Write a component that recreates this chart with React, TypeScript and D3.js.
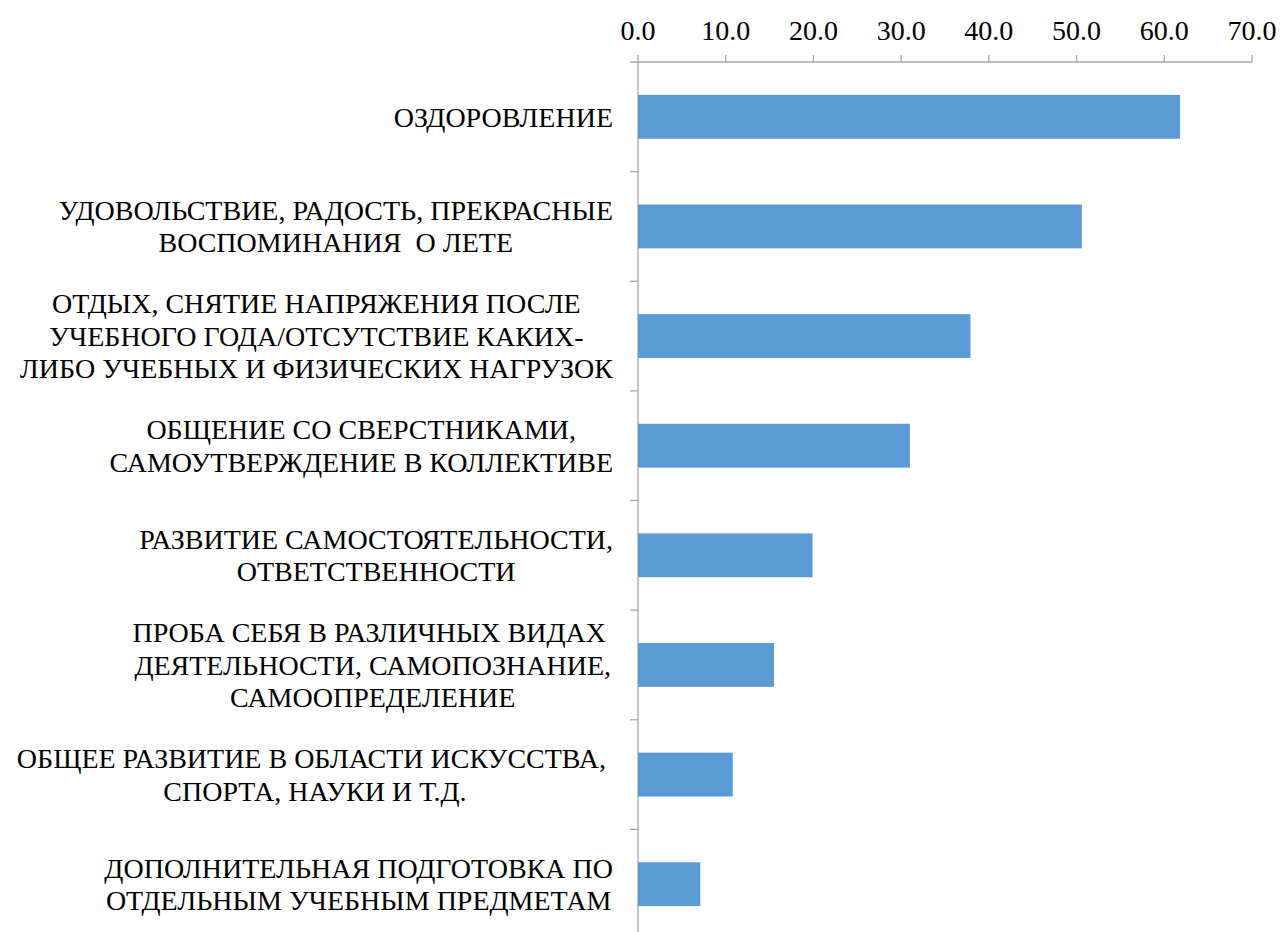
import React, { useMemo } from "react";
import * as d3 from "d3";

const categories: string[][] = [
  ["ОЗДОРОВЛЕНИЕ"],
  ["УДОВОЛЬСТВИЕ, РАДОСТЬ, ПРЕКРАСНЫЕ", "ВОСПОМИНАНИЯ  О ЛЕТЕ"],
  ["ОТДЫХ, СНЯТИЕ НАПРЯЖЕНИЯ ПОСЛЕ", "УЧЕБНОГО ГОДА/ОТСУТСТВИЕ КАКИХ-", "ЛИБО УЧЕБНЫХ И ФИЗИЧЕСКИХ НАГРУЗОК"],
  ["ОБЩЕНИЕ СО СВЕРСТНИКАМИ,", "САМОУТВЕРЖДЕНИЕ В КОЛЛЕКТИВЕ"],
  ["РАЗВИТИЕ САМОСТОЯТЕЛЬНОСТИ,", "ОТВЕТСТВЕННОСТИ"],
  ["ПРОБА СЕБЯ В РАЗЛИЧНЫХ ВИДАХ ", "ДЕЯТЕЛЬНОСТИ, САМОПОЗНАНИЕ,", "САМООПРЕДЕЛЕНИЕ"],
  ["ОБЩЕЕ РАЗВИТИЕ В ОБЛАСТИ ИСКУССТВА, ", "СПОРТА, НАУКИ И Т.Д."],
  ["ДОПОЛНИТЕЛЬНАЯ ПОДГОТОВКА ПО", "ОТДЕЛЬНЫМ УЧЕБНЫМ ПРЕДМЕТАМ"],
];
const values: number[] = [61.8, 50.6, 37.9, 31.0, 19.9, 15.5, 10.8, 7.1];
const xTicks: number[] = [0, 10, 20, 30, 40, 50, 60, 70];

const FONT = "Liberation Serif";
const FS = 28;

export default function App() {
  const W = 1280;
  const H = 932;
  const x = d3.scaleLinear().domain([0, 70]).range([638, 1252]);
  const keys = categories.map((c, i) => String(i));
  const y = d3.scaleBand<string>().domain(keys).range([62, 939]).paddingInner(0.6).paddingOuter(0.3);
  const step = y.step();
  const axisColor = "#a6a6a6";
  const labelRight = 613;
  const lineH = 32.5;

  const widths = useMemo(() => {
    const c = document.createElement("canvas").getContext("2d")!;
    c.font = `${FS}px "${FONT}"`;
    return categories.map((lines) => Math.max(...lines.map((l) => c.measureText(l).width)));
  }, []);

  return (
    <svg width={W} height={H} style={{ position: "absolute", left: 0, top: 0, background: "#fff" }}>
      <line x1={630} x2={x(70)} y1={62} y2={62} stroke={axisColor} strokeWidth={1.3} />
      {xTicks.map((t) => (
        <g key={t}>
          <line x1={x(t)} x2={x(t)} y1={55} y2={62} stroke={axisColor} strokeWidth={1.3} />
          <text x={x(t)} y={40} textAnchor="middle" fontFamily={FONT} fontSize={FS} fill="#000">
            {t.toFixed(1)}
          </text>
        </g>
      ))}
      <line x1={x(0)} x2={x(0)} y1={62} y2={H} stroke={axisColor} strokeWidth={1.3} />
      {keys.map((k, i) => {
        const yt = 62 + step * (i + 1);
        return <line key={k} x1={630} x2={x(0)} y1={yt} y2={yt} stroke={axisColor} strokeWidth={1.3} />;
      })}
      {values.map((v, i) => (
        <rect key={i} x={x(0)} y={y(keys[i])} width={x(v) - x(0)} height={y.bandwidth()} fill="#5b9bd5" />
      ))}
      {categories.map((lines, i) => {
        const cy = 62 + step * (i + 0.5);
        const cx = labelRight - widths[i] / 2;
        const n = lines.length;
        return (
          <text key={i} fontFamily={FONT} fontSize={FS} fill="#000" textAnchor="middle" style={{ whiteSpace: "pre" }}>
            {lines.map((l, j) => (
              <tspan key={j} x={cx} y={cy + (j - (n - 1) / 2) * lineH} dy="0.35em">
                {l}
              </tspan>
            ))}
          </text>
        );
      })}
    </svg>
  );
}
